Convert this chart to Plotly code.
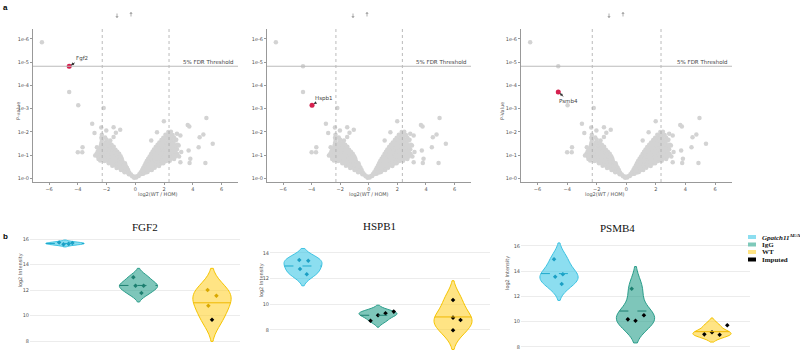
import numpy as np
import plotly.graph_objects as go

W, H = 800, 350

# ---------------- Volcano data (same proteins in the three panels) ----------------
# (log2(WT/HOM), -log10 p)
volcano_points = [
    # isolated points
    (-6.5, 5.85), (-4.6, 4.82), (-4.6, 3.72), (-3.97, 3.15), (-2.2, 3.03),
    (-3.0, 2.35), (-2.84, 1.95), (-2.37, 2.19), (-4.0, 1.13), (-3.69, 1.13),
    (-3.67, 1.34), (-1.51, 2.2), (-1.05, 2.09), (-2.02, 2.06), (-1.35, 1.96),
    (-1.51, 1.78), (-1.74, 1.63), (-2.67, 1.34), (-2.79, 0.99), (-2.56, 0.84),
    (-2.44, 0.77), (1.99, 2.46), (1.51, 1.99), (1.11, 1.63), (2.32, 1.85),
    (2.9, 1.92), (3.14, 1.85), (3.65, 2.3), (3.76, 2.23), (2.79, 1.63),
    (3.02, 1.42), (2.9, 1.06), (3.14, 0.7), (3.71, 1.2), (3.83, 0.85),
    (4.41, 1.34), (4.95, 2.6), (4.74, 1.89), (4.48, 1.77), (5.39, 1.49),
    (4.88, 0.67), (3.78, 0.67),
    # dense cloud
    (-0.08, 0.03), (0.06, 0.04),
    (-0.22, 0.10), (-0.10, 0.09), (0.12, 0.10), (0.24, 0.11),
    (-0.45, 0.18), (-0.30, 0.17), (0.28, 0.18), (0.42, 0.19), (0.55, 0.20),
    (-0.75, 0.27), (-0.60, 0.28), (-0.42, 0.26), (0.38, 0.27), (0.55, 0.28), (0.72, 0.26), (0.85, 0.28),
    (-1.00, 0.36), (-0.82, 0.37), (-0.65, 0.35), (-0.50, 0.36), (0.48, 0.36), (0.65, 0.37),
    (0.82, 0.35), (1.00, 0.36), (1.15, 0.37),
    (-1.30, 0.45), (-1.10, 0.46), (-0.92, 0.44), (-0.75, 0.45), (-0.58, 0.46), (0.55, 0.45),
    (0.75, 0.46), (0.95, 0.44), (1.15, 0.45), (1.35, 0.46),
    (-1.60, 0.55), (-1.40, 0.56), (-1.20, 0.54), (-1.00, 0.55), (-0.82, 0.56), (-0.66, 0.54),
    (0.64, 0.55), (0.85, 0.56), (1.05, 0.54), (1.25, 0.55), (1.45, 0.56), (1.65, 0.54),
    (-1.85, 0.65), (-1.65, 0.66), (-1.45, 0.64), (-1.25, 0.65), (-1.05, 0.66), (-0.85, 0.64),
    (-0.72, 0.66), (0.72, 0.65), (0.92, 0.66), (1.12, 0.64), (1.35, 0.65), (1.55, 0.66),
    (1.78, 0.64), (1.95, 0.65),
    (-2.15, 0.75), (-1.95, 0.76), (-1.72, 0.74), (-1.50, 0.75), (-1.30, 0.76), (-1.10, 0.74),
    (-0.90, 0.75), (0.80, 0.75), (1.00, 0.76), (1.22, 0.74), (1.45, 0.75), (1.68, 0.76),
    (1.90, 0.74), (2.15, 0.75), (2.40, 0.76),
    (-2.45, 0.85), (-2.20, 0.86), (-1.98, 0.84), (-1.75, 0.85), (-1.55, 0.86), (-1.32, 0.84),
    (-1.10, 0.85), (-0.95, 0.86), (0.90, 0.85), (1.10, 0.86), (1.32, 0.84), (1.55, 0.85),
    (1.78, 0.86), (2.00, 0.84), (2.25, 0.85), (2.50, 0.86), (2.70, 0.84),
    (-2.60, 0.95), (-2.35, 0.96), (-2.12, 0.94), (-1.90, 0.95), (-1.68, 0.96), (-1.45, 0.94),
    (-1.22, 0.95), (-1.02, 0.96), (1.00, 0.95), (1.20, 0.96), (1.42, 0.94), (1.65, 0.95),
    (1.88, 0.96), (2.10, 0.94), (2.32, 0.95), (2.55, 0.96), (2.80, 0.94), (3.05, 0.95),
    (-2.70, 1.05), (-2.48, 1.06), (-2.25, 1.04), (-2.02, 1.05), (-1.80, 1.06), (-1.58, 1.04),
    (-1.35, 1.05), (-1.12, 1.06), (1.10, 1.05), (1.32, 1.06), (1.55, 1.04), (1.78, 1.05),
    (2.00, 1.06), (2.22, 1.04), (2.45, 1.05), (2.68, 1.06), (2.92, 1.04),
    (-2.62, 1.15), (-2.40, 1.16), (-2.15, 1.14), (-1.92, 1.15), (-1.70, 1.16), (-1.48, 1.14),
    (-1.25, 1.15), (1.20, 1.15), (1.42, 1.16), (1.65, 1.14), (1.88, 1.15), (2.10, 1.16),
    (2.32, 1.14), (2.55, 1.15), (2.78, 1.16), (3.20, 1.14),
    (-2.55, 1.25), (-2.30, 1.26), (-2.05, 1.24), (-1.82, 1.25), (-1.60, 1.26), (-1.38, 1.24),
    (1.30, 1.25), (1.52, 1.26), (1.75, 1.24), (1.98, 1.25), (2.20, 1.26), (2.42, 1.24),
    (2.65, 1.25), (2.90, 1.26),
    (-2.42, 1.35), (-2.20, 1.36), (-1.95, 1.34), (-1.72, 1.35), (-1.50, 1.36), (1.42, 1.35),
    (1.65, 1.36), (1.88, 1.34), (2.10, 1.35), (2.35, 1.36), (2.58, 1.34), (2.82, 1.35),
    (-2.38, 1.45), (-2.12, 1.46), (-1.88, 1.44), (-1.65, 1.45), (1.55, 1.45), (1.78, 1.46),
    (2.02, 1.44), (2.25, 1.45), (2.48, 1.46), (2.72, 1.44), (2.95, 1.45),
    (-2.35, 1.55), (-2.05, 1.56), (-1.80, 1.54), (1.68, 1.55), (1.92, 1.56), (2.15, 1.54),
    (2.38, 1.55), (2.62, 1.56),
    (-2.32, 1.65), (-2.00, 1.66), (1.82, 1.65), (2.05, 1.66), (2.30, 1.64), (2.52, 1.65),
    (2.85, 1.66),
    (-2.36, 1.75), (-2.10, 1.76), (1.95, 1.75), (2.20, 1.76), (2.42, 1.74), (2.70, 1.75),
    (-2.33, 1.88), (2.10, 1.88), (2.35, 1.89), (2.60, 1.87),
    (2.30, 2.00), (2.48, 2.01),
]
volcano_fc = [p[0] for p in volcano_points]
volcano_logp = [p[1] for p in volcano_points]

highlight_genes = ["Fgf2", "Hspb1", "Psmb4"]
highlight_fc = [-4.6, -3.97, -4.6]
highlight_logp = [4.82, 3.15, 3.72]
fdr_threshold_logp = 4.82
fc_cutoffs = [-2.3, 2.35]
volcano_xticks = [-6, -4, -2, 0, 2, 4, 6]
volcano_yticks = [0, 1, 2, 3, 4, 5, 6]
volcano_yticktext = ["1e-0", "1e-1", "1e-2", "1e-3", "1e-4", "1e-5", "1e-6"]

# ---------------- Violin data ----------------
proteins = ["FGF2", "HSPB1", "PSMB4"]
group_names = ["<i>Gpatch11</i><sup>ΔE/ΔE</sup>", "IgG", "WT"]

fgf2_values = [[15.72, 15.62, 15.58, 15.68], [13.0, 12.34, 12.34, 11.76], [12.0, 11.55, 10.77, 9.67]]
fgf2_imputed = [[0, 0, 0, 0], [0, 0, 0, 0], [0, 0, 0, 1]]
fgf2_jitter = [[-0.08, 0.05, -0.02, 0.1], [-0.07, -0.04, 0.07, 0.04], [-0.06, 0.06, -0.05, 0.0]]

hspb1_values = [[13.45, 13.4, 12.75, 12.34], [8.72, 9.14, 9.3, 9.43], [10.34, 8.96, 8.78, 7.98]]
hspb1_imputed = [[0, 0, 0, 0], [1, 1, 1, 1], [1, 1, 1, 1]]
hspb1_jitter = [[-0.05, 0.07, -0.04, 0.05], [-0.1, 0.0, 0.1, 0.21], [0.0, 0.0, 0.1, 0.0]]

psmb4_values = [[14.94, 13.56, 13.75, 12.98], [12.61, 10.18, 10.07, 10.5], [8.99, 9.15, 8.96, 9.71]]
psmb4_imputed = [[0, 0, 0, 0], [0, 1, 1, 1], [1, 1, 1, 1]]
psmb4_jitter = [[-0.065, -0.05, 0.05, 0.035], [-0.05, -0.1, 0.0, 0.11], [-0.1, 0.0, 0.1, 0.2]]

violin_bandwidths = [[0.1, 0.35, 0.85], [0.45, 0.25, 0.75], [0.65, 0.88, 0.29]]
violin_yticks = [8, 10, 12, 14, 16]

# ---------------- Styling ----------------
fill_colors = ["rgba(64,200,230,0.6)", "rgba(40,160,140,0.6)", "rgba(255,210,50,0.6)"]
line_colors = ["#3dc3e2", "#2a9d8a", "#f5c400"]
mean_colors = ["#1fa9cc", "#1d7f70", "#f0b800"]
mean_dash = ["dash", "dash", "solid"]
point_colors = ["#1b9fc4", "#1d7f70", "#d9a800"]
legend_colors = ["#8cdef0", "#7ec9ba", "#ffe484", "#000000"]
GRAY = "#d3d3d3"
HL = "#d6204e"
TICKFONT = dict(family="DejaVu Sans", size=5, color="#555555")
SERIF = "Liberation Serif"


def px_x(p):
    return p / W


def px_y(p):
    return 1 - p / H


def kde_halfwidth_at_mean(vals, bw, width):
    """Half-width of a width-scaled gaussian-KDE violin at the sample mean."""
    v = np.asarray(vals, dtype=float)
    grid = np.linspace(v.min() - 2 * bw, v.max() + 2 * bw, 400)

    def dens(t):
        return np.exp(-0.5 * ((t[:, None] - v[None, :]) / bw) ** 2).sum(axis=1)

    dmax = dens(grid).max()
    dm = dens(np.array([v.mean()]))[0]
    return 0.5 * width * dm / dmax


fig = go.Figure()
annotations = []
shapes = []

volcano_xdom = [(33, 238), (267, 471), (521, 732)]
volcano_ydom = (29, 182)
arrow_centers = [124, 360, 616]
ytitle_text = ["P-value", None, "P-Value"]
ytitle_x = [13, None, 502]
label_offsets = [(13, -8), (11, -7), (10, 9)]

for i in range(3):
    n = i + 1
    xa = "x" if n == 1 else f"x{n}"
    ya = "y" if n == 1 else f"y{n}"
    fig.add_trace(go.Scatter(x=volcano_fc, y=volcano_logp, mode="markers",
                             marker=dict(color=GRAY, size=4.5), xaxis=xa, yaxis=ya,
                             showlegend=False, hoverinfo="skip"))
    fig.add_trace(go.Scatter(x=[highlight_fc[i]], y=[highlight_logp[i]], mode="markers",
                             marker=dict(color=HL, size=5), xaxis=xa, yaxis=ya,
                             showlegend=False))
    fig.layout[f"xaxis{n}"] = dict(domain=[px_x(volcano_xdom[i][0]), px_x(volcano_xdom[i][1])],
                                   range=[-7.12, 7.15], tickvals=volcano_xticks, ticks="outside",
                                   ticklen=2, tickcolor="#999", showline=True, linecolor="#999",
                                   linewidth=1, showgrid=False, zeroline=False, tickfont=TICKFONT,
                                   anchor=ya)
    fig.layout[f"yaxis{n}"] = dict(domain=[px_y(volcano_ydom[1]), px_y(volcano_ydom[0])],
                                   range=[-0.15, 6.42], tickvals=volcano_yticks,
                                   ticktext=volcano_yticktext, ticks="outside", ticklen=2,
                                   tickcolor="#999", showline=True, linecolor="#999", linewidth=1,
                                   showgrid=False, zeroline=False, tickfont=TICKFONT, anchor=xa)
    for c in fc_cutoffs:
        shapes.append(dict(type="line", xref=xa, yref=f"{ya} domain", x0=c, x1=c, y0=0, y1=1,
                           line=dict(color="#aaaaaa", width=0.8, dash="dot")))
    shapes.append(dict(type="line", xref=f"{xa} domain", yref=ya, x0=0, x1=1,
                       y0=fdr_threshold_logp, y1=fdr_threshold_logp,
                       line=dict(color="#bbbbbb", width=1.2)))
    annotations.append(dict(text="5% FDR Threshold", xref=f"{xa} domain", yref=ya, x=0.99,
                            y=fdr_threshold_logp, xanchor="right", yanchor="bottom",
                            showarrow=False, font=dict(family="DejaVu Sans", size=5.5, color="#444"),
                            yshift=-1))
    ax, ay = label_offsets[i]
    annotations.append(dict(text=highlight_genes[i], x=highlight_fc[i], y=highlight_logp[i],
                            xref=xa, yref=ya, showarrow=True, ax=ax, ay=ay, arrowhead=2,
                            arrowsize=0.6, arrowwidth=1, arrowcolor="#333", standoff=2,
                            font=dict(family="DejaVu Sans", size=5.5, color="#444")))
    # direction arrows drawn as small arrow annotations
    annotations.append(dict(text="", x=px_x(arrow_centers[i] - 7), y=px_y(18),
                            xref="paper", yref="paper", showarrow=True, ax=0, ay=-6,
                            arrowhead=1, arrowsize=0.7, arrowwidth=0.8, arrowcolor="#9a9a9a"))
    annotations.append(dict(text="", x=px_x(arrow_centers[i] + 7), y=px_y(12),
                            xref="paper", yref="paper", showarrow=True, ax=0, ay=6,
                            arrowhead=1, arrowsize=0.7, arrowwidth=0.8, arrowcolor="#9a9a9a"))
    cx = (volcano_xdom[i][0] + volcano_xdom[i][1]) / 2
    annotations.append(dict(text="log2(WT / HOM)", x=px_x(cx), y=px_y(194.5), xref="paper",
                            yref="paper", showarrow=False,
                            font=dict(family="DejaVu Sans", size=5, color="#555")))
    if ytitle_text[i]:
        annotations.append(dict(text=ytitle_text[i], x=px_x(ytitle_x[i]), y=px_y(100),
                                xref="paper", yref="paper", showarrow=False, textangle=-90,
                                font=dict(family="DejaVu Sans", size=5, color="#555")))

# ---------------- Violins ----------------
violin_values = [fgf2_values, hspb1_values, psmb4_values]
violin_imputed = [fgf2_imputed, hspb1_imputed, psmb4_imputed]
violin_jitter = [fgf2_jitter, hspb1_jitter, psmb4_jitter]
violin_xdom = [(30, 240), (270, 490), (521, 750)]
violin_xrange = [(-0.476, 2.381), (-0.44, 2.493), (-0.497, 2.497)]
violin_ydom = [(232, 346), (240, 350), (238, 350)]
violin_yrange = [(7.61, 16.55), (6.44, 15.01), (7.75, 16.63)]
title_pos = [(130, 227), (379, 226), (637, 236)]
ylabel_pos = [(14, 290), (255, 300), (507, 292)]
violin_widths = [0.52, 0.507, 0.5]

for p in range(3):
    n = p + 4
    xa, ya = f"x{n}", f"y{n}"
    for g in range(3):
        vals = violin_values[p][g]
        bw = violin_bandwidths[p][g]
        fig.add_trace(go.Violin(x=[g] * len(vals), y=vals, xaxis=xa, yaxis=ya,
                                width=violin_widths[p], bandwidth=bw,
                                fillcolor=fill_colors[g], line=dict(color=line_colors[g], width=1),
                                meanline=dict(visible=False), points=False,
                                showlegend=False, hoverinfo="skip"))
        hw = kde_halfwidth_at_mean(vals, bw, violin_widths[p])
        m = float(np.mean(vals))
        shapes.append(dict(type="line", xref=xa, yref=ya, x0=g - hw, x1=g + hw, y0=m, y1=m,
                           line=dict(color=mean_colors[g], width=1, dash=mean_dash[g])))
        xs = [g + j for j in violin_jitter[p][g]]
        cols = ["#000000" if imp else point_colors[g] for imp in violin_imputed[p][g]]
        fig.add_trace(go.Scatter(x=xs, y=vals, mode="markers", xaxis=xa, yaxis=ya,
                                 marker=dict(color=cols, size=3.5, symbol="diamond"),
                                 showlegend=False, hoverinfo="skip"))
    fig.layout[f"xaxis{n}"] = dict(domain=[px_x(violin_xdom[p][0]), px_x(violin_xdom[p][1])],
                                   range=list(violin_xrange[p]), showticklabels=False,
                                   showgrid=False, zeroline=False, showline=False, ticks="",
                                   anchor=ya)
    fig.layout[f"yaxis{n}"] = dict(domain=[px_y(violin_ydom[p][1]), px_y(violin_ydom[p][0])],
                                   range=list(violin_yrange[p]), tickvals=violin_yticks,
                                   showgrid=True, gridcolor="#ececec", gridwidth=1,
                                   zeroline=False, showline=False, ticks="", tickfont=TICKFONT,
                                   anchor=xa)
    annotations.append(dict(text=proteins[p], x=px_x(title_pos[p][0]), y=px_y(title_pos[p][1]),
                            xref="paper", yref="paper", showarrow=False,
                            font=dict(family=SERIF, size=11, color="#111")))
    annotations.append(dict(text="log2 Intensity", x=px_x(ylabel_pos[p][0]),
                            y=px_y(ylabel_pos[p][1]), xref="paper", yref="paper",
                            showarrow=False, textangle=-90,
                            font=dict(family="DejaVu Sans", size=5, color="#555")))

# ---------------- Legend ----------------
legend_labels = group_names + ["Imputed"]
legend_rows = [237, 244.5, 252, 259.5]
for k, lab in enumerate(legend_labels):
    shapes.append(dict(type="rect", xref="paper", yref="paper", x0=px_x(748), x1=px_x(756),
                       y0=px_y(legend_rows[k] + 2), y1=px_y(legend_rows[k] - 2),
                       fillcolor=legend_colors[k], line=dict(width=0)))
    annotations.append(dict(text=f"<b>{lab}</b>", x=px_x(760), y=px_y(legend_rows[k]),
                            xref="paper", yref="paper", xanchor="left", yanchor="middle",
                            showarrow=False, font=dict(family=SERIF, size=7, color="#111")))

# panel letters
annotations.append(dict(text="<b>a</b>", x=px_x(1), y=px_y(1), xref="paper", yref="paper",
                        xanchor="left", yanchor="top", showarrow=False,
                        font=dict(family="Liberation Sans", size=8, color="#000")))
annotations.append(dict(text="<b>b</b>", x=px_x(1), y=px_y(230), xref="paper", yref="paper",
                        xanchor="left", yanchor="top", showarrow=False,
                        font=dict(family="Liberation Sans", size=8, color="#000")))

fig.update_layout(width=W, height=H, margin=dict(l=0, r=0, t=0, b=0),
                  paper_bgcolor="white", plot_bgcolor="white", violinmode="overlay",
                  annotations=annotations, shapes=shapes, showlegend=False)

fig.write_html("out.html", config={"displayModeBar": False},
               post_script="document.body.style.margin='0';document.body.style.overflow='hidden';")
